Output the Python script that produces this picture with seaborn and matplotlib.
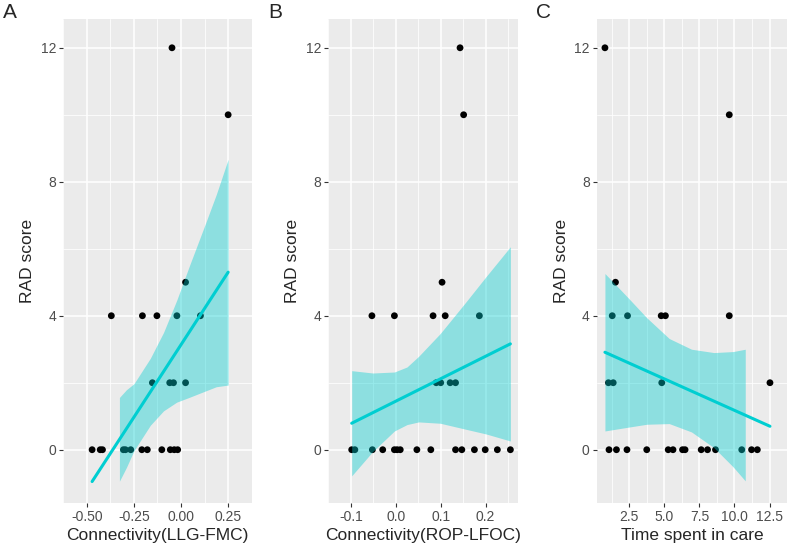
import matplotlib
matplotlib.use("Agg")
import matplotlib.pyplot as plt
import pandas as pd
import seaborn as sns

# panel A: connectivity LLG-FMC vs RAD score
a_x = [-0.472, -0.429, -0.417, -0.306, -0.295, -0.267, -0.208, -0.179, -0.102, -0.057, -0.036, -0.018,
       -0.370, -0.205, -0.128, -0.022, 0.103,
       -0.152, -0.060, -0.040, 0.024,
       0.024, -0.048, 0.250]
a_y = [0, 0, 0, 0, 0, 0, 0, 0, 0, 0, 0, 0,
       4, 4, 4, 4, 4,
       2, 2, 2, 2,
       5, 12, 10]
# fitted line and 95% band as drawn in the original
a_fit_x = [-0.472, 0.250]
a_fit_y = [-0.95, 5.30]
a_band_x = [-0.327, -0.290, -0.250, -0.163, -0.093, -0.023, 0.047, 0.128, 0.187, 0.250]
a_band_lo = [-0.94, -0.53, -0.03, 0.73, 1.16, 1.42, 1.57, 1.75, 1.88, 1.93]
a_band_hi = [1.56, 1.79, 1.97, 2.73, 3.50, 4.46, 5.53, 6.73, 7.62, 8.67]

# panel B: connectivity ROP-LFOC vs RAD score
b_x = [-0.098, -0.091, -0.052, -0.029, -0.003, 0.003, 0.010, 0.047, 0.078, 0.133, 0.147, 0.175, 0.199, 0.226, 0.255,
       -0.053, -0.003, 0.083, 0.110, 0.186,
       0.090, 0.100, 0.121, 0.133,
       0.103, 0.143, 0.151]
b_y = [0, 0, 0, 0, 0, 0, 0, 0, 0, 0, 0, 0, 0, 0, 0,
       4, 4, 4, 4, 4,
       2, 2, 2, 2,
       5, 12, 10]
b_fit_x = [-0.098, 0.255]
b_fit_y = [0.79, 3.16]
b_band_x = [-0.098, -0.051, -0.003, 0.025, 0.051, 0.099, 0.153, 0.201, 0.255]
b_band_lo = [-0.78, -0.05, 0.56, 0.75, 0.83, 0.79, 0.62, 0.47, 0.26]
b_band_hi = [2.36, 2.29, 2.32, 2.47, 2.79, 3.47, 4.36, 5.17, 6.06]

# panel C: time spent in care vs RAD score
c_x = [1.06, 1.59, 2.34, 3.75, 5.28, 5.62, 6.30, 6.48, 7.63, 8.08, 8.65, 10.52, 11.22, 11.63,
       1.29, 2.38, 4.78, 5.08, 9.63,
       1.02, 1.36, 4.82, 12.53,
       1.52, 0.77, 9.63]
c_y = [0, 0, 0, 0, 0, 0, 0, 0, 0, 0, 0, 0, 0, 0,
       4, 4, 4, 4, 4,
       2, 2, 2, 2,
       5, 12, 10]
c_fit_x = [0.77, 12.53]
c_fit_y = [2.91, 0.70]
c_band_x = [0.77, 2.39, 3.75, 5.35, 6.94, 8.54, 9.90, 10.77]
c_band_lo = [0.56, 0.67, 0.76, 0.78, 0.53, 0.06, -0.51, -0.93]
c_band_hi = [5.26, 4.55, 3.94, 3.32, 3.00, 2.90, 2.93, 3.00]

panels = [
    ("A", a_x, a_y, a_fit_x, a_fit_y, a_band_x, a_band_lo, a_band_hi,
     "Connectivity(LLG-FMC)", [-0.5, -0.25, 0.0, 0.25], ["-0.50", "-0.25", "0.00", "0.25"]),
    ("B", b_x, b_y, b_fit_x, b_fit_y, b_band_x, b_band_lo, b_band_hi,
     "Connectivity(ROP-LFOC)", [-0.1, 0.0, 0.1, 0.2], ["-0.1", "0.0", "0.1", "0.2"]),
    ("C", c_x, c_y, c_fit_x, c_fit_y, c_band_x, c_band_lo, c_band_hi,
     "Time spent in care", [2.5, 5.0, 7.5, 10.0, 12.5], ["2.5", "5.0", "7.5", "10.0", "12.5"]),
]

LINE_COL = "#00CED1"

sns.set_style("darkgrid", {"axes.facecolor": "#EBEBEB", "grid.color": "white"})
plt.rcParams["font.family"] = ["Liberation Sans", "DejaVu Sans"]

fig = plt.figure(figsize=(7.9, 5.5), dpi=100)
lefts = [0.0801, 0.4156, 0.7553]
widths = [0.2385, 0.2405, 0.2410]
letter_x = [0.004, 0.340, 0.679]

for i, (letter, xs, ys, fx, fy, bx, blo, bhi, xlabel, xticks, xticklabels) in enumerate(panels):
    ax = fig.add_axes([lefts[i], 0.0849, widths[i], 0.8806])
    df = pd.DataFrame({"x": xs, "y": ys})
    fit = pd.DataFrame({"x": fx, "y": fy})

    sns.scatterplot(data=df, x="x", y="y", ax=ax, color="black", s=24,
                    edgecolor="none", zorder=3)
    # confidence band drawn over the points, as in ggplot
    ax.fill_between(bx, blo, bhi, color=LINE_COL, alpha=0.4, linewidth=0, zorder=4)
    sns.lineplot(data=fit, x="x", y="y", ax=ax, color=LINE_COL, lw=2.2, zorder=5)

    span = max(xs) - min(xs)
    ax.set_xlim(min(xs) - 0.05 * span, max(xs) + 0.05 * span)
    ax.set_ylim(-1.6, 12.86)
    ax.set_xticks(xticks)
    ax.set_xticklabels(xticklabels)
    ax.set_yticks([0, 4, 8, 12])
    step = xticks[1] - xticks[0]
    minor = [xticks[0] - step / 2] + [t + step / 2 for t in xticks]
    ax.set_xticks(minor, minor=True)
    ax.set_yticks([2, 6, 10], minor=True)
    ax.grid(which="major", color="white", lw=1.1)
    ax.grid(which="minor", color="white", lw=0.55)
    ax.tick_params(which="major", length=3, width=0.8, color="#333333",
                   labelsize=10, labelcolor="#4D4D4D", pad=2, bottom=True, left=True)
    ax.tick_params(which="minor", length=0)
    for sp in ax.spines.values():
        sp.set_visible(False)
    ax.set_xlabel(xlabel, fontsize=12.5, labelpad=3)
    ax.set_ylabel("RAD score", fontsize=12.5, labelpad=4)

    fig.text(letter_x[i], 0.995, letter, fontsize=15, va="top", ha="left")

fig.savefig("out.png", dpi=100)
